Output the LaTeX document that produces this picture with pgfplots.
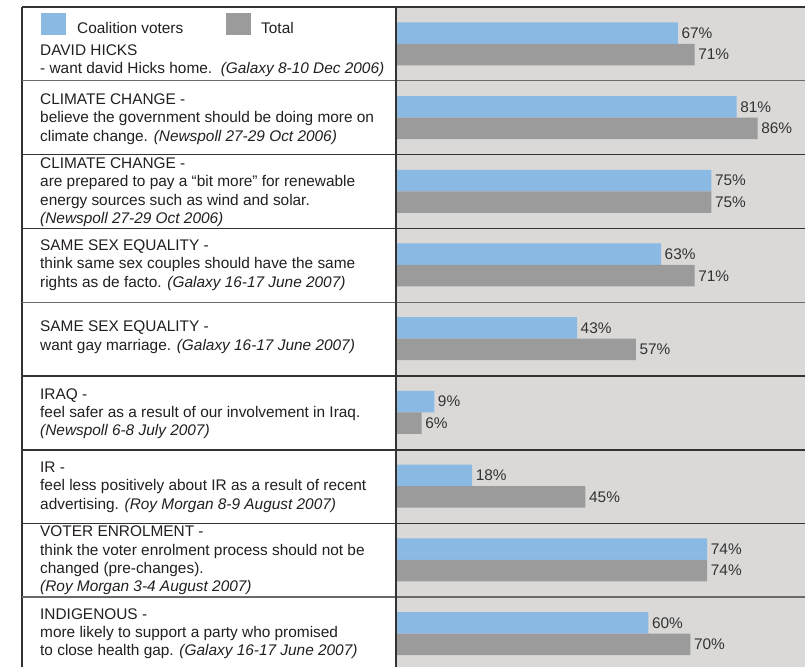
\documentclass[border=0pt]{standalone}
\usepackage{pgfplots}
\pgfplotsset{compat=1.18}
\usepackage{pgfplotstable}
\usepackage{fontspec}
\setmainfont{Liberation Sans}
\definecolor{cblue}{HTML}{8AB9E3}
\definecolor{cgray}{HTML}{9B9B9B}
\definecolor{panelbg}{HTML}{DAD9D8}
\definecolor{txt}{HTML}{231F20}
\definecolor{lbl}{HTML}{333333}
\definecolor{ldark}{HTML}{333333}
\definecolor{lmid}{HTML}{6A6A6A}

\pgfplotstableread{
i v
0 67
1 81
2 75
3 63
4 43
5 9
6 18
7 74
8 60
}\coalition
\pgfplotstableread{
i v
0 71
1 86
2 75
3 71
4 57
5 6
6 45
7 74
8 70
}\total

\newcommand\T[2]{\node[anchor=base west,inner sep=0pt,text=txt] at (40bp,-#1bp) {#2};}

\begin{document}
\begin{tikzpicture}[font=\fontsize{15.4bp}{18.3bp}\selectfont]
\useasboundingbox (0,0) rectangle (805bp,-667bp);
\clip (0,0) rectangle (805bp,-667bp);
\fill[white] (0,0) rectangle (805bp,-667bp);
\fill[panelbg] (396bp,-7bp) rectangle (805bp,-667bp);

\begin{axis}[
  at={(396.5bp,-7bp)}, anchor=north west,
  scale only axis, width=408.5bp, height=663.4bp,
  xmin=0, xmax=97.3, ymin=-0.5, ymax=8.5,
  y dir=reverse,
  hide axis, clip=false,
  xbar, bar width=21.5bp,
  /pgf/number format/assume math mode=true,
  nodes near coords={\pgfmathprintnumber{\pgfplotspointmeta}\%},
  every node near coord/.append style={anchor=west, inner xsep=3.5bp, inner ysep=0pt, text=lbl, font=\fontsize{15.4bp}{18bp}\selectfont},
]
\addplot[fill=cblue, draw=none, bar shift=10.75bp] table[x=v, y=i] {\coalition};
\addplot[fill=cgray, draw=none, bar shift=-10.75bp] table[x=v, y=i] {\total};
\end{axis}

% frame lines
\draw[ldark, line width=1.2bp] (22bp,-7bp) -- (805bp,-7bp);
\draw[ldark, line width=1.2bp] (22bp,-7bp) -- (22bp,-667bp);
\draw[lmid, line width=1.1bp] (22bp,-80.7bp) -- (805bp,-80.7bp);
\draw[ldark, line width=1.1bp] (22bp,-154.5bp) -- (805bp,-154.5bp);
\draw[ldark, line width=1.1bp] (22bp,-228.3bp) -- (805bp,-228.3bp);
\draw[lmid, line width=1.1bp] (22bp,-302.2bp) -- (805bp,-302.2bp);
\draw[ldark, line width=1.1bp] (22bp,-376bp) -- (805bp,-376bp);
\draw[ldark, line width=1.1bp] (22bp,-450bp) -- (805bp,-450bp);
\draw[ldark, line width=1.1bp] (22bp,-523.5bp) -- (805bp,-523.5bp);
\draw[lmid, line width=1.1bp] (22bp,-597bp) -- (805bp,-597bp);
\draw[ldark, line width=1.8bp] (395.7bp,-7bp) -- (395.7bp,-667bp);

% legend
\fill[cblue] (41bp,-13bp) rectangle (66bp,-35bp);
\node[anchor=base west,inner sep=0pt,text=txt] at (77bp,-33bp) {Coalition voters};
\fill[cgray] (226bp,-13bp) rectangle (251bp,-35bp);
\node[anchor=base west,inner sep=0pt,text=txt] at (261bp,-33bp) {Total};

% row texts
\T{55}{DAVID HICKS}
\T{73.3}{- want david Hicks home.\ \ \textit{(Galaxy 8-10 Dec 2006)}}
\T{104.3}{CLIMATE CHANGE -}
\T{122.7}{believe the government should be doing more on}
\T{141}{climate change. \textit{(Newspoll 27-29 Oct 2006)}}
\T{168.3}{CLIMATE CHANGE -}
\T{186.7}{are prepared to pay a “bit more” for renewable}
\T{205}{energy sources such as wind and solar.}
\T{223.3}{\textit{(Newspoll 27-29 Oct 2006)}}
\T{250}{SAME SEX EQUALITY -}
\T{268.5}{think same sex couples should have the same}
\T{287}{rights as de facto. \textit{(Galaxy 16-17 June 2007)}}
\T{331.7}{SAME SEX EQUALITY -}
\T{350}{want gay marriage. \textit{(Galaxy 16-17 June 2007)}}
\T{399}{IRAQ -}
\T{417.3}{feel safer as a result of our involvement in Iraq.}
\T{435.6}{\textit{(Newspoll 6-8 July 2007)}}
\T{472.3}{IR -}
\T{490.8}{feel less positively about IR as a result of recent}
\T{509}{advertising. \textit{(Roy Morgan 8-9 August 2007)}}
\T{536.7}{VOTER ENROLMENT -}
\T{555}{think the voter enrolment process should not be}
\T{573.3}{changed (pre-changes).}
\T{591.7}{\textit{(Roy Morgan 3-4 August 2007)}}
\T{619}{INDIGENOUS -}
\T{637.3}{more likely to support a party who promised}
\T{655.6}{to close health gap. \textit{(Galaxy 16-17 June 2007)}}
\end{tikzpicture}
\end{document}
